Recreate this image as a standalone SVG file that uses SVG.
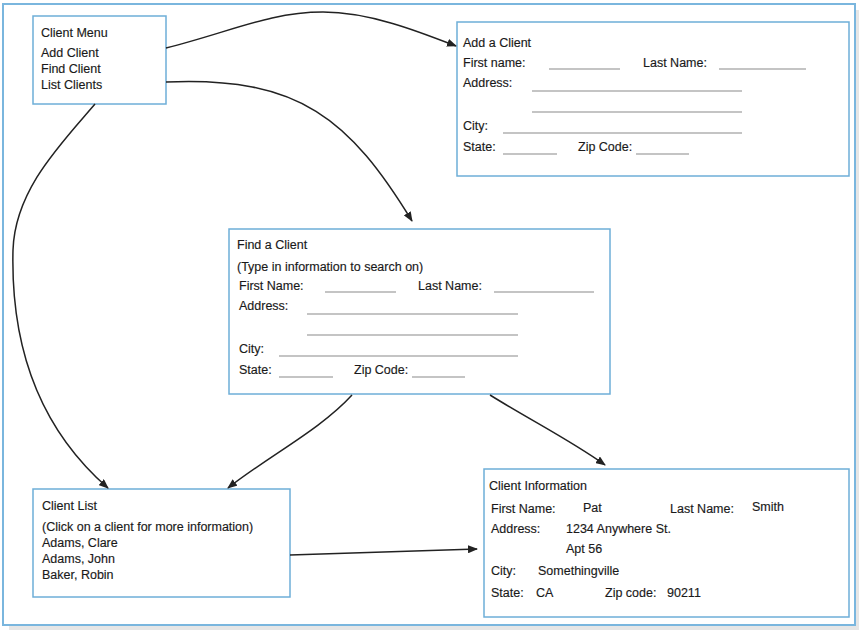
<svg xmlns="http://www.w3.org/2000/svg" width="859" height="630" viewBox="0 0 859 630">
<defs>
<style>
.box{fill:#fff;stroke:#6eaed8;stroke-width:1.5}
.t{font-family:"Liberation Sans",Arial,sans-serif;font-size:12.5px;fill:#1a1a1a;stroke:#1a1a1a;stroke-width:0.15}
.f{stroke:#8a8a8a;stroke-width:1.2;fill:none}
.c{stroke:#222;stroke-width:1.5;fill:none;marker-end:url(#ah)}
</style>
<marker id="ah" markerUnits="userSpaceOnUse" markerWidth="10" markerHeight="8" refX="9" refY="4" orient="auto">
<path d="M0,0 L10,4 L0,8 Z" fill="#222"/>
</marker>
</defs>
<rect x="9" y="10" width="850" height="620" fill="#e6e6e6"/>
<rect x="3" y="4" width="852" height="621" fill="#fff" stroke="#7ab6de" stroke-width="2"/>

<g id="client-menu">
<rect class="box" x="33" y="16" width="133" height="88"/>
<text class="t" x="41" y="37">Client Menu</text>
<text class="t" x="41" y="57">Add Client</text>
<text class="t" x="41" y="73">Find Client</text>
<text class="t" x="41" y="89">List Clients</text>
</g>

<g id="add-client">
<rect class="box" x="457" y="22" width="392" height="154"/>
<text class="t" x="463" y="47">Add a Client</text>
<text class="t" x="463" y="67">First name:</text>
<line class="f" x1="549" y1="69" x2="620" y2="69"/>
<text class="t" x="643" y="67">Last Name:</text>
<line class="f" x1="719" y1="69" x2="806" y2="69"/>
<text class="t" x="463" y="87">Address:</text>
<line class="f" x1="532" y1="91" x2="742" y2="91"/>
<line class="f" x1="532" y1="112" x2="742" y2="112"/>
<text class="t" x="463" y="130">City:</text>
<line class="f" x1="503" y1="133" x2="742" y2="133"/>
<text class="t" x="463" y="151">State:</text>
<line class="f" x1="503" y1="154" x2="557" y2="154"/>
<text class="t" x="578" y="151">Zip Code:</text>
<line class="f" x1="636" y1="154" x2="689" y2="154"/>
</g>

<g id="find-client">
<rect class="box" x="229" y="229" width="381" height="165"/>
<text class="t" x="237" y="249">Find a Client</text>
<text class="t" x="237" y="271">(Type in information to search on)</text>
<text class="t" x="239" y="290">First Name:</text>
<line class="f" x1="325" y1="292" x2="396" y2="292"/>
<text class="t" x="418" y="290">Last Name:</text>
<line class="f" x1="494" y1="292" x2="594" y2="292"/>
<text class="t" x="239" y="310">Address:</text>
<line class="f" x1="307" y1="314" x2="518" y2="314"/>
<line class="f" x1="307" y1="335" x2="518" y2="335"/>
<text class="t" x="239" y="353">City:</text>
<line class="f" x1="279" y1="356" x2="518" y2="356"/>
<text class="t" x="239" y="374">State:</text>
<line class="f" x1="279" y1="377" x2="333" y2="377"/>
<text class="t" x="354" y="374">Zip Code:</text>
<line class="f" x1="412" y1="377" x2="465" y2="377"/>
</g>

<g id="client-list">
<rect class="box" x="33" y="489" width="257" height="108"/>
<text class="t" x="42" y="510">Client List</text>
<text class="t" x="42" y="531">(Click on a client for more information)</text>
<text class="t" x="42" y="547">Adams, Clare</text>
<text class="t" x="42" y="563">Adams, John</text>
<text class="t" x="42" y="579">Baker, Robin</text>
</g>

<g id="client-information">
<rect class="box" x="484" y="469" width="365" height="148"/>
<text class="t" x="489" y="490">Client Information</text>
<text class="t" x="491" y="513">First Name:</text>
<text class="t" x="583" y="512">Pat</text>
<text class="t" x="670" y="513">Last Name:</text>
<text class="t" x="752" y="511">Smith</text>
<text class="t" x="491" y="533">Address:</text>
<text class="t" x="566" y="533">1234 Anywhere St.</text>
<text class="t" x="566" y="553">Apt 56</text>
<text class="t" x="491" y="575">City:</text>
<text class="t" x="538" y="575">Somethingville</text>
<text class="t" x="491" y="597">State:</text>
<text class="t" x="536" y="597">CA</text>
<text class="t" x="605" y="597">Zip code:</text>
<text class="t" x="667" y="597">90211</text>
</g>

<g id="connectors">
<path class="c" d="M166,48 C230,32 270,12 323,12 C370,12 420,32 456,46"/>
<path class="c" d="M166,82 C300,76 350,120 412,221"/>
<path class="c" d="M95,104 C60,145 15,190 13,250 C11,330 30,420 108,488"/>
<path class="c" d="M352,395 C320,430 270,455 228,488"/>
<path class="c" d="M490,395 C530,420 570,440 605,465"/>
<path class="c" d="M290,555 L477,549"/>
</g>
</svg>
